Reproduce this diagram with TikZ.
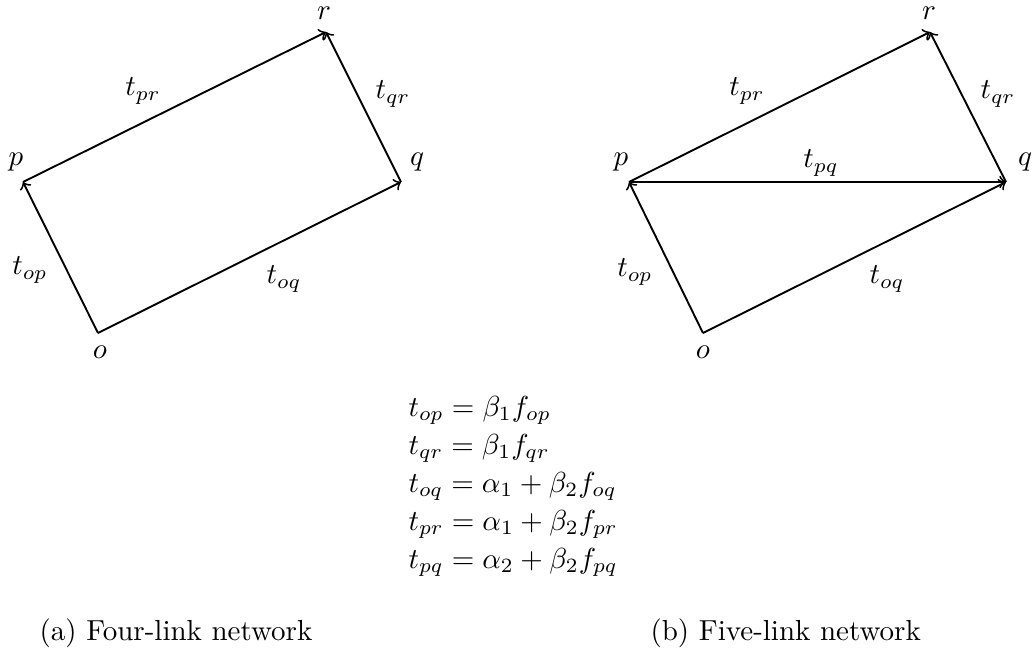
\documentclass[tikz,border=0pt]{standalone}
\usepackage{amsmath}
\begin{document}
\begin{tikzpicture}[x=0.345pt,y=-0.345pt,
  link/.style={->,line width=0.65pt},
  lbl/.style={inner sep=0pt,anchor=center},
  eqn/.style={inner sep=0pt,anchor=base west},
  captext/.style={inner sep=0pt,anchor=base west}]
\useasboundingbox (0,0) rectangle (1034,656);
% left diagram
\coordinate (o1) at (98,333);
\coordinate (p1) at (23,182);
\coordinate (q1) at (401,182);
\coordinate (r1) at (326,32);
\draw[link] (o1) -- (p1);
\draw[link] (o1) -- (q1);
\draw[link] (p1) -- (r1);
\draw[link] (q1) -- (r1);
\node[lbl] (lr1) at (324,13.5) {$r$};
\node[lbl] (lp1) at (16,162) {$p$};
\node[lbl] (lq1) at (417,162) {$q$};
\node[lbl] (lo1) at (100,352) {$o$};
\node[lbl] (tpr1) at (143,91) {$t_{pr}$};
\node[lbl] (tqr1) at (393,94) {$t_{qr}$};
\node[lbl] (top1) at (30,270) {$t_{op}$};
\node[lbl] (toq1) at (284,279) {$t_{oq}$};
% right diagram
\coordinate (o2) at (703,333);
\coordinate (p2) at (629,182);
\coordinate (q2) at (1006,182);
\coordinate (r2) at (930,32);
\draw[link] (o2) -- (p2);
\draw[link] (o2) -- (q2);
\draw[link] (p2) -- (r2);
\draw[link] (q2) -- (r2);
\draw[link] (p2) -- (q2);
\node[lbl] (lr2) at (929,13.5) {$r$};
\node[lbl] (lp2) at (621,162) {$p$};
\node[lbl] (lq2) at (1025,162) {$q$};
\node[lbl] (lo2) at (703,352) {$o$};
\node[lbl] (tpr2) at (747,91) {$t_{pr}$};
\node[lbl] (tqr2) at (998,94) {$t_{qr}$};
\node[lbl] (tpq2) at (821,163) {$t_{pq}$};
\node[lbl] (top2) at (635,272) {$t_{op}$};
\node[lbl] (toq2) at (887,279) {$t_{oq}$};
% equations
\node[eqn] (e1) at (408,416) {$t_{op} = \beta_1 f_{op}$};
\node[eqn] (e2) at (408,454) {$t_{qr} = \beta_1 f_{qr}$};
\node[eqn] (e3) at (408,492) {$t_{oq} = \alpha_1 + \beta_2 f_{oq}$};
\node[eqn] (e4) at (408,530) {$t_{pr} = \alpha_1 + \beta_2 f_{pr}$};
\node[eqn] (e5) at (408,568) {$t_{pq} = \alpha_2 + \beta_2 f_{pq}$};
% captions
\node[captext] (ca) at (39,640) {(a) Four-link network};
\node[captext] (cb) at (650,640) {(b) Five-link network};
\end{tikzpicture}
\end{document}
